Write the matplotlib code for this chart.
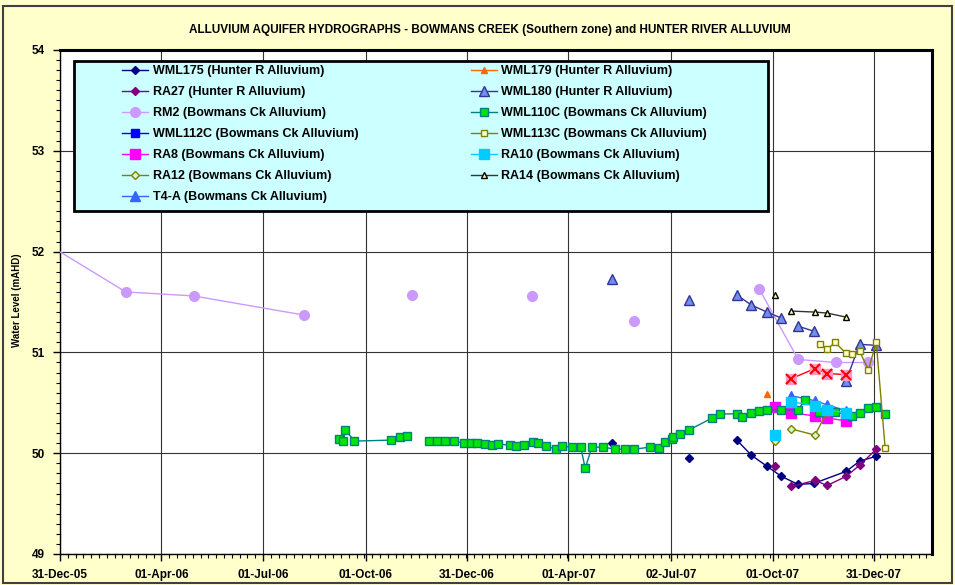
import numpy as np
import pandas as pd
import matplotlib
matplotlib.use("Agg")
import matplotlib.pyplot as plt
import matplotlib.dates as mdates
from matplotlib.patches import Rectangle
from matplotlib.ticker import MultipleLocator, FixedLocator

plt.rcParams['font.family'] = ['Liberation Sans', 'DejaVu Sans']

nan = np.nan

# ===== data (water level, mAHD) =====
wml175_dates = ['2007-05-10', '2007-06-15', '2007-07-18', '2007-08-10', '2007-08-30', '2007-09-12',
                '2007-09-26', '2007-10-09', '2007-10-24', '2007-11-07', '2007-12-06', '2007-12-18',
                '2008-01-02']
wml175_vals = [50.10, nan, 49.95, nan, 50.13, 49.98, 49.87, 49.77, 49.69, 49.70, 49.82, 49.92, 49.97]

wml179_dates = ['2007-09-26']
wml179_vals = [50.59]

ra27_dates = ['2007-10-03', '2007-10-10', '2007-10-18', '2007-11-08', '2007-11-19', '2007-12-06',
              '2007-12-18', '2008-01-02']
ra27_vals = [49.87, nan, 49.67, 49.73, 49.68, 49.77, 49.88, 50.04]

wml180_dates = ['2007-05-10', '2007-06-15', '2007-07-18', '2007-08-10', '2007-08-30', '2007-09-12',
                '2007-09-26', '2007-10-09', '2007-10-16', '2007-10-24', '2007-11-07', '2007-11-20',
                '2007-12-06', '2007-12-18', '2008-01-02']
wml180_vals = [51.73, nan, 51.52, nan, 51.57, 51.47, 51.40, 51.34, nan, 51.26, 51.21, nan,
               50.72, 51.08, 51.07]

rm2_dates = ['2005-12-01', '2006-02-28', '2006-04-30', '2006-08-07', '2006-10-01', '2006-11-12',
             '2007-01-01', '2007-02-27', '2007-04-15', '2007-05-30', '2007-08-01', '2007-09-19',
             '2007-10-24', '2007-11-27', '2007-12-26']
rm2_vals = [52.20, 51.60, 51.56, 51.37, nan, 51.57, nan, 51.56, nan, 51.31, nan, 51.63,
            50.93, 50.90, 50.90]

wml110c_dates = ['2006-09-07', '2006-09-11', '2006-09-13', '2006-09-21', '2006-10-24', '2006-11-01',
                 '2006-11-07', '2006-11-17', '2006-11-27', '2006-12-04', '2006-12-11', '2006-12-19',
                 '2006-12-28', '2007-01-04', '2007-01-09', '2007-01-16', '2007-01-22', '2007-01-28',
                 '2007-02-08', '2007-02-13', '2007-02-20', '2007-02-28', '2007-03-05', '2007-03-12',
                 '2007-03-21', '2007-03-26', '2007-04-04', '2007-04-12', '2007-04-16', '2007-04-22',
                 '2007-05-02', '2007-05-13', '2007-05-22', '2007-05-30', '2007-06-13', '2007-06-21',
                 '2007-06-27', '2007-07-03', '2007-07-04', '2007-07-10', '2007-07-18', '2007-08-08',
                 '2007-08-15', '2007-08-30', '2007-09-04', '2007-09-12', '2007-09-19', '2007-09-26',
                 '2007-10-09', '2007-10-24', '2007-10-30', '2007-11-12', '2007-11-26', '2007-12-11',
                 '2007-12-18', '2007-12-26', '2008-01-02', '2008-01-10']
wml110c_vals = [50.14, 50.12, 50.23, 50.12, 50.13, 50.16, 50.17, nan, 50.12, 50.12, 50.12, 50.12,
                50.10, 50.10, 50.10, 50.09, 50.08, 50.09, 50.08, 50.07, 50.08, 50.11, 50.10, 50.07,
                50.04, 50.07, 50.06, 50.06, 49.85, 50.06, 50.06, 50.04, 50.04, 50.04, 50.06, 50.05,
                50.11, 50.14, 50.16, 50.19, 50.23, 50.35, 50.39, 50.39, 50.36, 50.40, 50.42, 50.43,
                50.43, 50.43, 50.53, 50.41, 50.41, 50.37, 50.40, 50.45, 50.46, 50.39]

wml113c_dates = ['2007-11-13', '2007-11-19', '2007-11-26', '2007-12-06', '2007-12-11', '2007-12-18',
                 '2007-12-26', '2008-01-02', '2008-01-10']
wml113c_vals = [51.08, 51.03, 51.10, 50.99, 50.98, 51.01, 50.83, 51.10, 50.05]

ra8_dates = ['2007-10-03', '2007-10-10', '2007-10-18', '2007-11-08', '2007-11-19', '2007-12-06']
ra8_vals = [50.46, nan, 50.40, 50.37, 50.35, 50.32]

ra10_dates = ['2007-10-03', '2007-10-10', '2007-10-18', '2007-11-08', '2007-11-19', '2007-12-06']
ra10_vals = [50.18, nan, 50.51, 50.47, 50.43, 50.40]

ra12_dates = ['2007-10-03', '2007-10-10', '2007-10-18', '2007-11-08', '2007-11-19']
ra12_vals = [50.12, nan, 50.24, 50.18, 50.41]

ra14_dates = ['2007-10-03', '2007-10-10', '2007-10-18', '2007-11-08', '2007-11-19', '2007-12-06']
ra14_vals = [51.57, nan, 51.41, 51.40, 51.39, 51.35]

t4a_dates = ['2007-10-18', '2007-11-08', '2007-11-19', '2007-12-06']
t4a_vals = [50.57, 50.52, 50.48, 50.42]

# unlabelled series (red crosses, not in legend)
rx_dates = ['2007-10-18', '2007-11-08', '2007-11-19', '2007-12-06']
rx_vals = [50.74, 50.84, 50.79, 50.78]

tick_dates = ['2005-12-31', '2006-04-01', '2006-07-01', '2006-10-01', '2006-12-31',
              '2007-04-01', '2007-07-02', '2007-10-01', '2007-12-31']

d = pd.to_datetime

fig = plt.figure(figsize=(9.55, 5.85), dpi=100, facecolor='#FFFFCC')
ax = fig.add_axes([60/955, 1-554/585, 872/955, 504/585])
ax.set_facecolor('white')

# cyan legend box drawn behind the lines
ax.add_patch(Rectangle((14/872, (554-211)/504), 694/872, 150/504, transform=ax.transAxes,
                       facecolor='#CCFFFF', edgecolor='black', lw=2, zorder=1))

handles = []
def line(dates, vals, label, **kw):
    h, = ax.plot(d(dates), vals, label=label, zorder=3, **kw)
    handles.append(h)
    return h

line(wml175_dates, wml175_vals, 'WML175 (Hunter R Alluvium)', color='#000080', lw=1,
     marker='D', ms=4.5, mfc='#000080', mec='#000080')
line(ra27_dates, ra27_vals, 'RA27 (Hunter R Alluvium)', color='#800080', lw=1,
     marker='D', ms=4.5, mfc='#800080', mec='#800080')
line(rm2_dates, rm2_vals, 'RM2 (Bowmans Ck Alluvium)', color='#CC99FF', lw=1,
     marker='o', ms=7, mfc='#CC99FF', mec='#CC99FF')
line([], [], 'WML112C (Bowmans Ck Alluvium)', color='#0000FF', lw=1,
     marker='s', ms=6, mfc='#0000FF', mec='#0000FF')
line(ra8_dates, ra8_vals, 'RA8 (Bowmans Ck Alluvium)', color='#FF00FF', lw=1,
     marker='s', ms=6.5, mfc='#FF00FF', mec='#FF00FF')
line(ra12_dates, ra12_vals, 'RA12 (Bowmans Ck Alluvium)', color='#808000', lw=1,
     marker='D', ms=4.5, mfc='#CCFFCC', mec='#808000')
line(t4a_dates, t4a_vals, 'T4-A (Bowmans Ck Alluvium)', color='#3366FF', lw=1,
     marker='^', ms=7, mfc='#3366FF', mec='#3366FF')
line(wml179_dates, wml179_vals, 'WML179 (Hunter R Alluvium)', color='#FF6600', lw=1,
     marker='^', ms=4, mfc='#FF6600', mec='#FF6600')
line(wml180_dates, wml180_vals, 'WML180 (Hunter R Alluvium)', color='#333399', lw=1,
     marker='^', ms=7, mfc='#6F8FE8', mec='#333399')
line(wml110c_dates, wml110c_vals, 'WML110C (Bowmans Ck Alluvium)', color='#008080', lw=1,
     marker='s', ms=6, mfc='#00E600', mec='#008080')
line(wml113c_dates, wml113c_vals, 'WML113C (Bowmans Ck Alluvium)', color='#808000', lw=1,
     marker='s', ms=4, mfc='#FFFFCC', mec='#808000')
line(ra10_dates, ra10_vals, 'RA10 (Bowmans Ck Alluvium)', color='#00CCFF', lw=1,
     marker='s', ms=6.5, mfc='#00CCFF', mec='#00CCFF')
line(ra14_dates, ra14_vals, 'RA14 (Bowmans Ck Alluvium)', color='#333333', lw=1,
     marker='^', ms=4, mfc='#FFFF99', mec='black')

ax.plot(d(rx_dates), rx_vals, color='#FF0000', lw=1, marker='s', ms=7, mfc='#FF99CC',
        mec='#FF99CC', zorder=3)
ax.plot(d(rx_dates), rx_vals, ls='none', marker='x', ms=7, mew=1.5, color='#FF0000', zorder=3)

leg = ax.legend(handles=handles, ncol=2, loc='upper left', bbox_to_anchor=(62/872, (554-65)/504),
                frameon=False, prop={'weight': 'bold', 'size': 9}, numpoints=1,
                handlelength=2.1, handletextpad=0.35, labelspacing=0.72, columnspacing=9.0,
                borderaxespad=0, borderpad=0)
leg.set_zorder(4)

# axes
start = d('2005-12-31')
ax.set_xlim(start, start + pd.Timedelta(days=782))
ax.set_ylim(49, 54)
ax.xaxis.set_major_locator(FixedLocator(mdates.date2num(d(tick_dates))))
ax.xaxis.set_minor_locator(FixedLocator(mdates.date2num(pd.date_range(start, periods=120, freq='7D'))))
ax.xaxis.set_major_formatter(mdates.DateFormatter('%d-%b-%y'))
ax.yaxis.set_major_locator(MultipleLocator(1))
ax.yaxis.set_minor_locator(MultipleLocator(0.1))
ax.tick_params(which='major', direction='out', length=5, width=1, labelsize=8.5, pad=6)
ax.tick_params(which='minor', direction='out', length=3, width=0.8)
for lab in ax.get_xticklabels() + ax.get_yticklabels():
    lab.set_fontweight('bold')
ax.grid(True, which='major', color='#333333', lw=0.8, zorder=0)
ax.set_axisbelow(True)
for s in ['left', 'bottom']:
    ax.spines[s].set_linewidth(1)
for s in ['top', 'right']:
    ax.spines[s].set_linewidth(2.2)

fig.text(490/955, 1-30/585,
         'ALLUVIUM AQUIFER HYDROGRAPHS - BOWMANS CREEK (Southern zone) and HUNTER RIVER ALLUVIUM',
         ha='center', va='center', fontsize=8.5, fontweight='bold',
         family=['Liberation Sans Narrow', 'Liberation Sans', 'DejaVu Sans'])
fig.text(17/955, 1-300/585, 'Water Level (mAHD)', rotation=90, ha='center', va='center',
         fontsize=7, fontweight='bold')

fig.patches.append(Rectangle((3/955, 2/585), 949/955, 577/585, transform=fig.transFigure,
                             fill=False, edgecolor='#404040', lw=1.5))

fig.savefig('out.png', dpi=100, facecolor=fig.get_facecolor())
